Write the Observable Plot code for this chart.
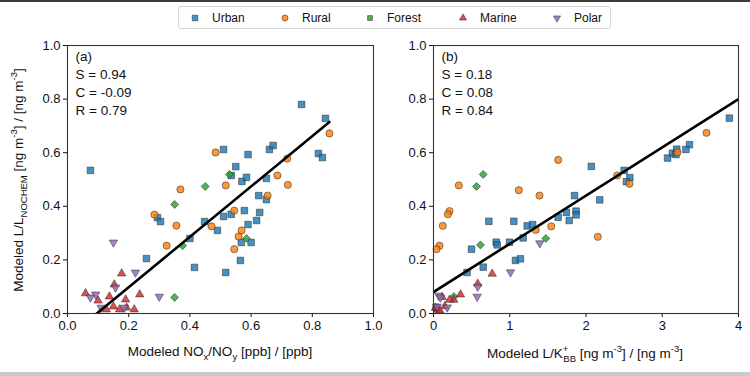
<!DOCTYPE html>
<html><head><meta charset="utf-8">
<script src="https://cdn.jsdelivr.net/npm/d3@7"></script>
<script src="https://cdn.jsdelivr.net/npm/@observablehq/plot@0.6"></script>
<style>
body{margin:0;background:#fff;font-family:"Liberation Sans",Arial,sans-serif;}
#wrap{width:750px;height:376px;box-sizing:border-box;border-top:2px solid #3c3c3c;border-bottom:4px solid #cacaca;overflow:hidden;background:#fff;}
#legend{height:36px;position:relative;}
#legend .box{position:absolute;left:178px;top:4px;width:433px;height:23px;border:1px solid #d6d6d6;border-radius:3px;box-sizing:border-box;}
.item{position:absolute;top:0;height:21px;display:flex;align-items:center;font-size:12px;color:#111;}
.item svg{margin-right:12px;}
#row{display:flex;}
</style></head>
<body>
<div id="wrap"><div id="legend"><div class="box"></div></div><div id="row"></div></div>
<script>
const categories = ["Urban", "Rural", "Forest", "Marine", "Polar"];
const colors = ["#1f77b4", "#ff7f0e", "#2ca02c", "#d62728", "#9467bd"];
const yTicks = [0, 0.2, 0.4, 0.6, 0.8, 1.0];
const xTicksA = [0, 0.2, 0.4, 0.6, 0.8, 1.0];
const xTicksB = [0, 1, 2, 3, 4];

// Panel (a): x = modeled NOx/NOy, y = modeled L/L_NOCHEM
const urbanA = [[0.075,0.534],[0.765,0.78],[0.843,0.728],[0.82,0.597],[0.833,0.582],[0.51,0.612],[0.59,0.593],[0.66,0.612],[0.672,0.627],[0.55,0.548],[0.57,0.493],[0.585,0.508],[0.535,0.515],[0.65,0.504],[0.625,0.44],[0.65,0.425],[0.628,0.377],[0.618,0.347],[0.578,0.384],[0.535,0.37],[0.51,0.362],[0.59,0.332],[0.448,0.343],[0.49,0.31],[0.568,0.265],[0.6,0.265],[0.565,0.198],[0.517,0.153],[0.258,0.205],[0.294,0.358],[0.304,0.343],[0.4,0.28],[0.415,0.172]];
const ruralA = [[0.484,0.601],[0.856,0.672],[0.718,0.578],[0.686,0.515],[0.72,0.48],[0.517,0.478],[0.654,0.44],[0.545,0.384],[0.471,0.325],[0.569,0.31],[0.559,0.287],[0.545,0.24],[0.369,0.463],[0.284,0.369],[0.324,0.253],[0.356,0.328]];
const forestA = [[0.529,0.519],[0.45,0.474],[0.585,0.28],[0.35,0.407],[0.376,0.253],[0.35,0.06]];
const marineA = [[0.059,0.075],[0.1,0.048],[0.137,0.063],[0.153,0.108],[0.177,0.149],[0.19,0.052],[0.236,0.071],[0.15,0.026],[0.127,0.015],[0.17,0.015],[0.193,0.022],[0.218,0.015]];
const polarA = [[0.15,0.265],[0.222,0.153],[0.092,0.071],[0.075,0.06],[0.157,0.097],[0.3,0.063],[0.11,0.022],[0.186,0.022]];

// Panel (b): x = modeled L/K+_BB
const urbanB = [[2.07,0.549],[2.5,0.534],[1.85,0.44],[2.18,0.424],[0.726,0.344],[1.053,0.344],[1.229,0.327],[1.3,0.332],[1.635,0.359],[1.744,0.377],[1.87,0.382],[1.87,0.368],[1.78,0.347],[0.822,0.266],[0.835,0.256],[0.997,0.266],[1.176,0.282],[0.498,0.24],[1.075,0.198],[1.14,0.204],[0.652,0.173],[0.44,0.153],[0.035,0.023],[3.88,0.729],[3.357,0.63],[3.31,0.612],[3.19,0.613],[3.134,0.598],[3.18,0.593],[3.07,0.58],[2.575,0.507],[2.53,0.492]];
const ruralB = [[1.635,0.573],[0.332,0.478],[1.119,0.46],[1.39,0.44],[2.41,0.515],[2.57,0.484],[0.21,0.382],[0.188,0.37],[0.122,0.327],[0.079,0.253],[0.04,0.24],[1.544,0.325],[1.34,0.312],[2.155,0.286],[3.58,0.674],[3.2,0.602]];
const forestB = [[0.652,0.519],[0.564,0.474],[0.616,0.256],[1.473,0.28],[0.267,0.063]];
const marineB = [[0.77,0.148],[0.58,0.111],[0.354,0.071],[0.266,0.051],[0.21,0.051],[0.114,0.061],[0.148,0.027],[0.056,0.014],[0.026,0.021],[0.083,0.011]];
const polarB = [[1.394,0.262],[1.01,0.154],[0.58,0.1],[0.573,0.063],[0.07,0.067],[0.09,0.06],[0.048,0.026],[0.18,0.023]];

// Fit statistics [S, C, R] and line x-range
const statsA = [0.94, -0.09, 0.79];
const statsB = [0.18, 0.08, 0.84];
const lineXA = [0.0, 0.856];
const lineXB = [0.0, 4.0];

const triDown = {draw(ctx, size){ const s3 = Math.sqrt(3); const y = -Math.sqrt(size/(s3*3)); ctx.moveTo(0,-y*2); ctx.lineTo(-s3*y, y); ctx.lineTo(s3*y, y); ctx.closePath(); }};
const symbols = ["square", "circle", "diamond2", "triangle", triDown];
const radii = [3.7, 3.6, 3.6, 3.1, 3.1];

function dots(series) {
  return series.map((arr, i) => Plot.dot(arr.map(([x, y]) => ({x, y})), {
    x: "x", y: "y", symbol: symbols[i], r: radii[i], fill: colors[i], fillOpacity: 0.82,
    stroke: "#2a2a2a", strokeOpacity: 0.75, strokeWidth: 0.7
  }));
}

function richText(svg, x, y, parts, opts = {}) {
  const t = svg.append("text").attr("x", x).attr("y", y)
    .attr("text-anchor", "middle").attr("font-size", 13.5).attr("fill", "#111")
    .attr("font-family", '"Liberation Sans", Arial, sans-serif');
  if (opts.rotate) t.attr("transform", `rotate(-90 ${x} ${y})`);
  let cur = 0;
  for (const [txt, kind, dx] of parts) {
    const target = kind === "sup" ? -6 : kind === "sub" ? 4 : 0;
    const sp = t.append("tspan").text(txt).attr("dy", target - cur);
    if (dx) sp.attr("dx", dx);
    if (kind !== "n") sp.attr("font-size", 9.5);
    cur = target;
  }
}

function panel(series, width, xDomain, xTicks, fmt, mLeft, mRight, stats, lineX, tag) {
  const [S, C, R] = stats;
  const lineData = lineX.map(x => ({x, y: S * x + C}));
  const label = `${tag}\nS = ${S.toFixed(2)}\nC = ${C.toFixed(2)}\nR = ${R.toFixed(2)}`;
  return Plot.plot({
    width, height: 334,
    marginTop: 7, marginBottom: 59, marginLeft: mLeft, marginRight: mRight,
    style: {fontFamily: '"Liberation Sans", Arial, sans-serif', fontSize: "13px", color: "#111", background: "white", overflow: "visible"},
    x: {domain: xDomain},
    y: {domain: [0, 1]},
    marks: [
      Plot.axisX({ticks: xTicks, tickFormat: fmt, tickSize: 4, tickPadding: 3, label: null, fontSize: 13}),
      Plot.axisY({ticks: yTicks, tickFormat: ".1f", tickSize: 4, tickPadding: 3, label: null, fontSize: 13}),
      ...dots(series),
      Plot.line(lineData, {x: "x", y: "y", stroke: "black", strokeWidth: 2.6, clip: true}),
      Plot.text([label], {text: d => d, frameAnchor: "top-left", dx: 8, dy: 3, lineHeight: 1.33, fontSize: 13.5, textAnchor: "start", fill: "#111"}),
      Plot.frame({stroke: "#333", strokeWidth: 1.1})
    ]
  });
}

const row = document.getElementById("row");
const svgA = panel([urbanA, ruralA, forestA, marineA, polarA], 385, [0, 1], xTicksA, ".1f", 67, 12, statsA, lineXA, "(a)");
const svgB = panel([urbanB, ruralB, forestB, marineB, polarB], 365, [0, 4], xTicksB, "d", 48, 12, statsB, lineXB, "(b)");
row.appendChild(svgA);
row.appendChild(svgB);

const sA = d3.select(svgA), sB = d3.select(svgB);
richText(sA, 23, 142, [["Modeled L/L","n"],["NOCHEM","sub"],[" [ng m","n"],["-3","sup"],["] / [ng m","n"],["-3","sup"],["]","n"]], {rotate: true});
richText(sA, 220, 318, [["Modeled NO","n"],["x","sub"],["/NO","n"],["y","sub"],[" [ppb] / [ppb]","n"]]);
richText(sB, 200, 320, [["Modeled L/K","n"],["+","sup"],["BB","sub",-5],[" [ng m","n"],["-3","sup"],["] / [ng m","n"],["-3","sup"],["]","n"]]);

// Legend
const box = document.querySelector("#legend .box");
const markerX = [11, 101, 186, 279, 373];
categories.forEach((c, i) => {
  const it = document.createElement("div");
  it.className = "item";
  it.style.left = markerX[i] + "px";
  const sz = 10;
  const sym = typeof symbols[i] === "string" ? {square: d3.symbolSquare, circle: d3.symbolCircle, diamond2: d3.symbolSquare2, triangle: d3.symbolTriangle}[symbols[i]] : symbols[i];
  const area = Math.PI * (radii[i] * 0.85) ** 2;
  const path = d3.symbol(sym, area)();
  it.innerHTML = `<svg width="${sz}" height="${sz}" viewBox="${-sz/2} ${-sz/2} ${sz} ${sz}"><path d="${path}" fill="${colors[i]}" fill-opacity="0.82" stroke="#2a2a2a" stroke-opacity="0.75" stroke-width="0.7"/></svg><span>${c}</span>`;
  box.appendChild(it);
});
</script>
</body></html>
